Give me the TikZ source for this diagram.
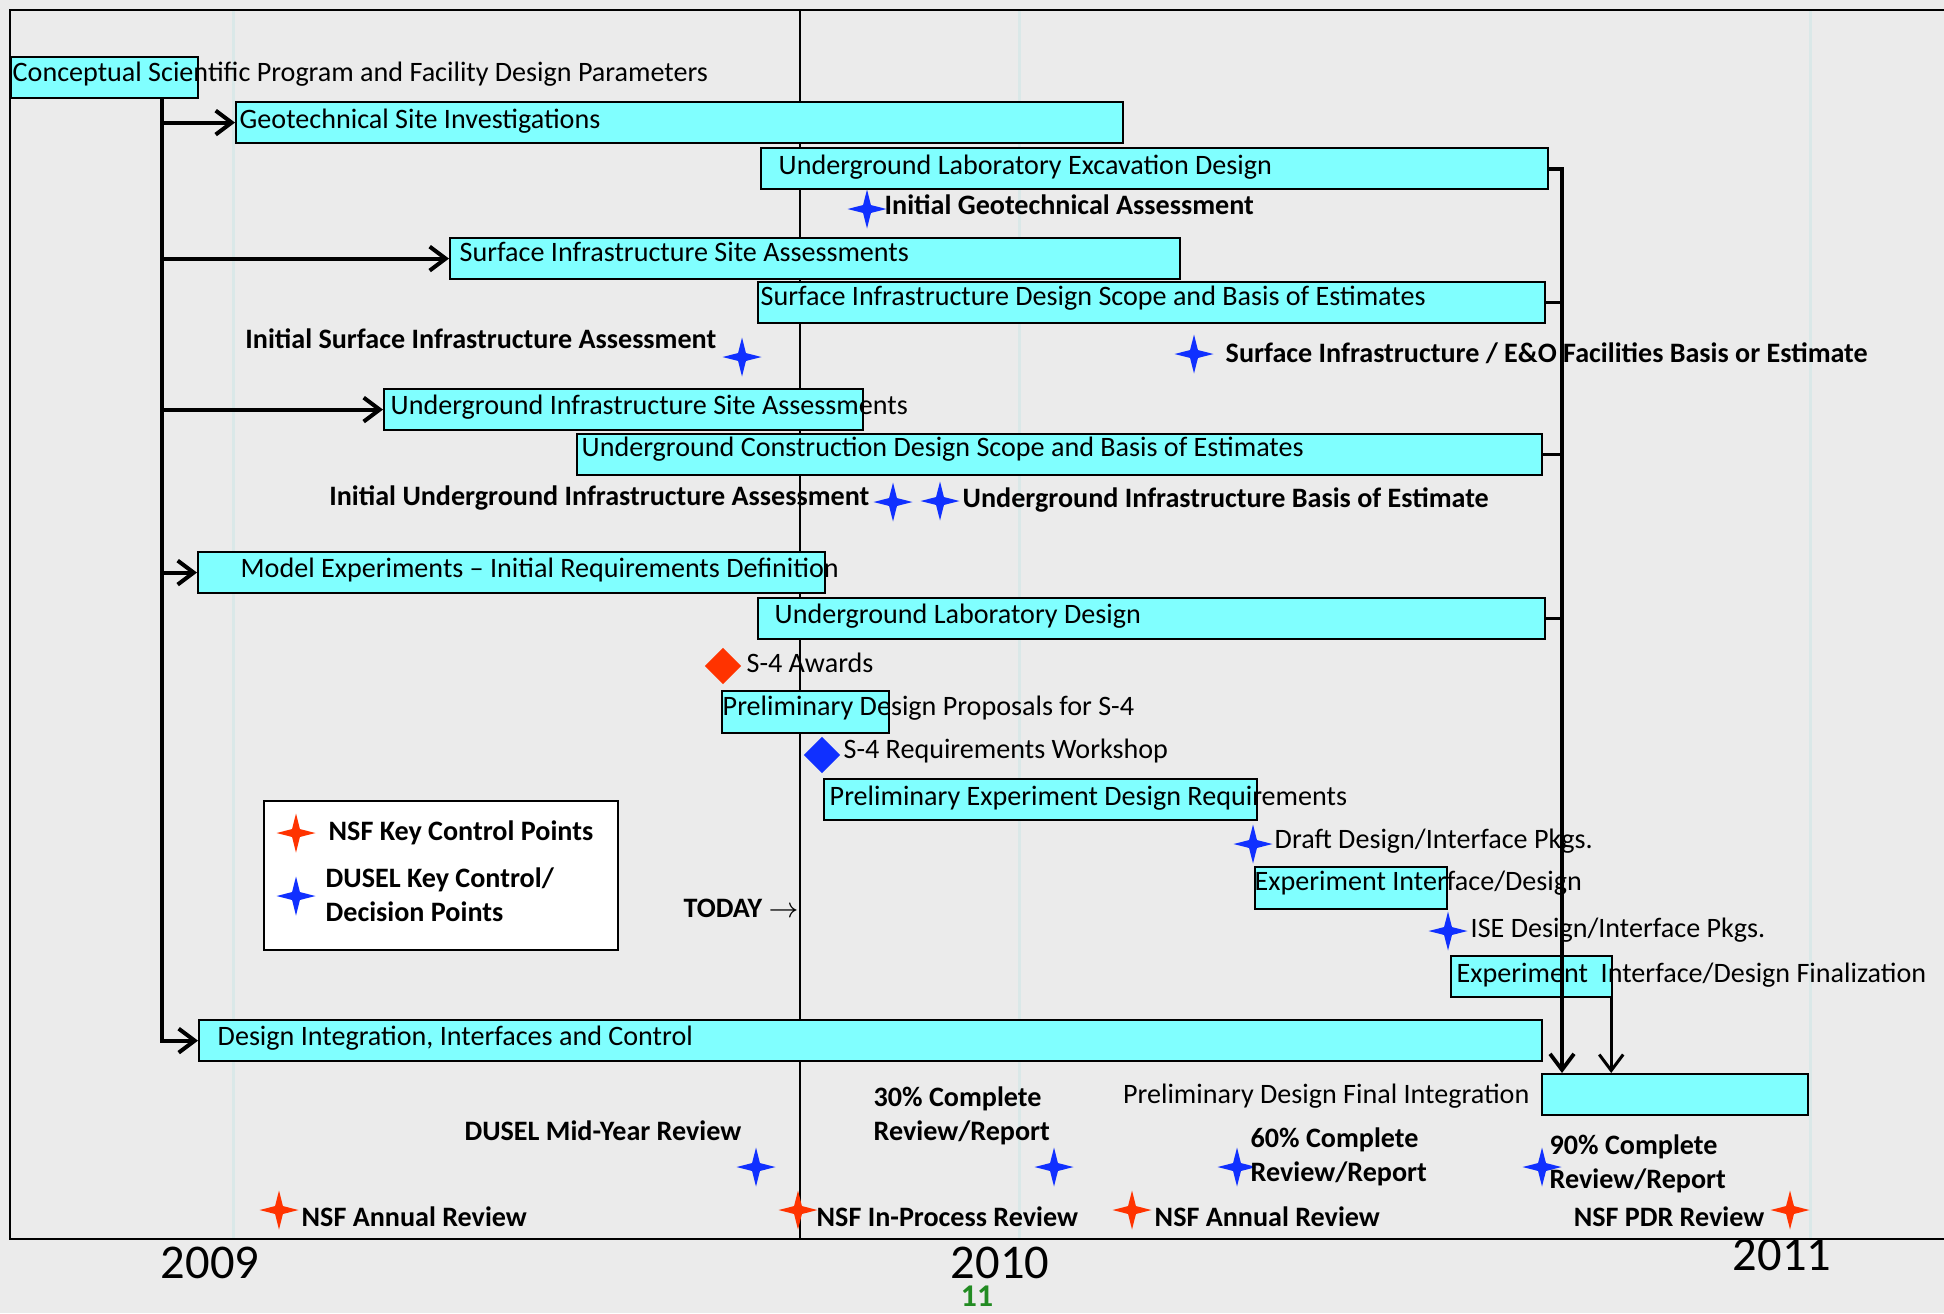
\documentclass[tikz,border=0pt]{standalone}
\usepackage{fontspec}
\setmainfont{Carlito}
\usetikzlibrary{arrows.meta,shapes.geometric,positioning}
\definecolor{barcyan}{RGB}{128,255,255}
\definecolor{bgray}{RGB}{235,235,235}
\definecolor{gridc}{RGB}{218,232,232}
\definecolor{nsfred}{RGB}{255,51,0}
\definecolor{duselblue}{RGB}{16,48,255}
\definecolor{pagegreen}{RGB}{34,139,34}
\begin{document}
\begin{tikzpicture}[x=1mm,y=-1mm,
  bar/.style={draw,line width=0.22mm,fill=barcyan,anchor=north west,minimum height=4.1mm,inner sep=0},
  txt/.style={anchor=base west,inner sep=0,font=\fontsize{8}{9.4}\selectfont},
  btxt/.style={txt,font=\fontsize{8}{9.4}\selectfont\bfseries},
  mtxt/.style={btxt,align=left},
  kstar/.style={star,star points=4,star point ratio=3.5,minimum size=3.9mm,inner sep=0},
  nsfstar/.style={kstar,fill=nsfred},
  dstar/.style={kstar,fill=duselblue},
  mdia/.style={diamond,aspect=1,minimum size=3.7mm,inner sep=0},
  yr/.style={font=\fontsize{13.8}{16}\selectfont,anchor=base,inner sep=0},
  flow/.style={line width=0.4mm,-{Straight Barb[length=1.6mm,width=2.4mm]}},
  link/.style={line width=0.35mm}]
\useasboundingbox (0,0) rectangle (194.4,131.3);
\fill[bgray] (0,0) rectangle (194.4,131.3);
% year grid, today line and frame
\foreach \gx in {23.3,101.9,181.0}
  \draw[gridc,line width=0.3mm] (\gx,1.0) -- (\gx,123.9);
\draw[line width=0.13mm] (80.0,1.0) -- (80.0,123.9);
\draw[line width=0.25mm] (194.4,1.0) -- (1.0,1.0) -- (1.0,123.9) -- (194.4,123.9);

% bars
\node[bar,minimum width=18.7mm] (cons) at (1.0,5.6) {};
\node[bar,minimum width=88.7mm] (geo) at (23.5,10.1) {};
\node[bar,minimum width=78.7mm] (exc) at (76.0,14.7) {};
\node[bar,minimum width=73.0mm] (ssa) at (44.9,23.7) {};
\node[bar,minimum width=78.7mm] (sdes) at (75.7,28.1) {};
\node[bar,minimum width=47.9mm] (usa) at (38.3,38.8) {};
\node[bar,minimum width=96.5mm] (ucon) at (57.6,43.3) {};
\node[bar,minimum width=62.7mm] (mod) at (19.7,55.1) {};
\node[bar,minimum width=78.7mm] (ulab) at (75.7,59.7) {};
\node[bar,minimum width=16.7mm,minimum height=4.2mm] (pdp) at (72.1,69.0) {};
\node[bar,minimum width=43.3mm] (ped) at (82.3,77.8) {};
\node[bar,minimum width=19.2mm,minimum height=4.2mm] (eid) at (125.4,86.6) {};
\node[bar,minimum width=16.1mm] (eif) at (145.0,95.5) {};
\node[bar,minimum width=134.3mm] (din) at (19.8,101.9) {};
\node[bar,minimum width=26.6mm] (pfi) at (154.1,107.3) {};

% flow from the parameters
\coordinate (trunk) at (16.2,9.7);
\draw[flow] (trunk) |- (din.west);
\foreach \b in {geo,ssa,usa,mod}
  \draw[flow] (trunk |- \b.west) -- (\b.west);
\coordinate (rail) at (156.2,16.4);
\draw[flow,line width=0.38mm] (exc.east) -| (rail |- pfi.north);
\foreach \b in {sdes,ucon,ulab}
  \draw[link] (\b.east) -- (\b.east -| rail);
\draw[flow,line width=0.3mm] ([xshift=-0.2mm]eif.south east) -- ([xshift=-0.2mm]eif.south east |- pfi.north);

% bar texts
\node[txt] (cons-t) at (1.2,8.1) {Conceptual Scientific Program and Facility Design Parameters};
\node[txt] (geo-t) at (23.9,12.8) {Geotechnical Site Investigations};
\node[txt] (exc-t) at (77.8,17.4) {Underground Laboratory Excavation Design};
\node[txt] (ssa-t) at (45.9,26.1) {Surface Infrastructure Site Assessments};
\node[txt] (sdes-t) at (76.0,30.5) {Surface Infrastructure Design Scope and Basis of Estimates};
\node[txt] (usa-t) at (39.0,41.4) {Underground Infrastructure Site Assessments};
\node[txt] (ucon-t) at (58.1,45.6) {Underground Construction Design Scope and Basis of Estimates};
\node[txt] (mod-t) at (24.0,57.7) {Model Experiments – Initial Requirements Definition};
\node[txt] (ulab-t) at (77.4,62.3) {Underground Laboratory Design};
\node[txt] (pdp-t) at (72.2,71.5) {Preliminary Design Proposals for S-4};
\node[txt] (ped-t) at (82.9,80.5) {Preliminary Experiment Design Requirements};
\node[txt] (eid-t) at (125.4,89.0) {Experiment Interface/Design};
\node[txt] (eif-t) at (145.6,98.2) {Experiment\ \ Interface/Design Finalization};
\node[txt] (din-t) at (21.7,104.5) {Design Integration, Interfaces and Control};
\node[txt,anchor=base east] (pfi-t) at (153.0,110.3) {Preliminary Design Final Integration};

% milestones
\node[dstar] (igeo) at (86.7,20.9) {};
\node[btxt] (igeo-t) at (88.4,21.4) {Initial Geotechnical Assessment};
\node[dstar] (isurf) at (74.2,35.7) {};
\node[btxt,anchor=base east] (isurf-t) at (71.7,34.8) {Initial Surface Infrastructure Assessment};
\node[dstar] (seo) at (119.4,35.4) {};
\node[btxt] (seo-t) at (122.5,36.2) {Surface Infrastructure / E\&O Facilities Basis or Estimate};
\node[dstar] (iua) at (89.3,50.2) {};
\node[btxt,anchor=base east] (iua-t) at (87.0,50.5) {Initial Underground Infrastructure Assessment};
\node[dstar] (uibe) at (94.0,50.1) {};
\node[btxt] (uibe-t) at (96.2,50.7) {Underground Infrastructure Basis of Estimate};
\node[mdia,fill=nsfred] (s4a) at (72.3,66.6) {};
\node[txt] (s4a-t) at (74.6,67.2) {S-4 Awards};
\node[mdia,fill=duselblue] (s4w) at (82.2,75.5) {};
\node[txt] (s4w-t) at (84.3,75.8) {S-4 Requirements Workshop};
\node[dstar] (draft) at (125.3,84.4) {};
\node[txt] (draft-t) at (127.4,84.8) {Draft Design/Interface Pkgs.};
\node[dstar] (ise) at (144.8,93.1) {};
\node[txt] (ise-t) at (147.0,93.7) {ISE Design/Interface Pkgs.};

% legend and today
\node[draw,fill=white,line width=0.2mm,anchor=north west,minimum width=35.4mm,minimum height=14.9mm,inner sep=0] (legend) at (26.3,80.0) {};
\node[nsfstar] (leg-nsf) at (29.6,83.3) {};
\node[btxt] (leg-nsf-t) at (32.8,84.0) {NSF Key Control Points};
\node[dstar] (leg-dusel) at (29.6,89.6) {};
\node[mtxt] (leg-dusel-t) at (32.5,92.1) {DUSEL Key Control/\\Decision Points};
\node[btxt] (today) at (68.3,91.7) {TODAY $\rightarrow$};

% reviews
\node[btxt,anchor=base east] (midyear-t) at (74.2,114.0) {DUSEL Mid-Year Review};
\node[dstar] (midyear) at (75.6,116.7) {};
\node[mtxt] (c30-t) at (87.3,114.0) {30\% Complete\\Review/Report};
\node[dstar] (c30) at (105.4,116.7) {};
\node[dstar] (c60) at (123.7,116.7) {};
\node[mtxt] (c60-t) at (125.0,118.1) {60\% Complete\\Review/Report};
\node[dstar] (c90) at (154.2,116.7) {};
\node[mtxt] (c90-t) at (154.9,118.8) {90\% Complete\\Review/Report};
\node[nsfstar] (nsf1) at (27.9,121.0) {};
\node[btxt] (nsf1-t) at (30.1,122.6) {NSF Annual Review};
\node[nsfstar] (nsfip) at (79.8,121.0) {};
\node[btxt] (nsfip-t) at (81.6,122.6) {NSF In-Process Review};
\node[nsfstar] (nsf2) at (113.2,121.0) {};
\node[btxt] (nsf2-t) at (115.4,122.6) {NSF Annual Review};
\node[btxt,anchor=base east] (pdr-t) at (176.5,122.6) {NSF PDR Review};
\node[nsfstar] (pdr) at (179.0,121.0) {};

% years
\node[yr] (y2009) at (21.0,127.8) {2009};
\node[yr] (y2010) at (100.0,127.8) {2010};
\node[yr] (y2011) at (178.2,127.0) {2011};
\node[anchor=base,inner sep=0,font=\fontsize{9}{10}\selectfont\bfseries,text=pagegreen] (pnum) at (97.7,130.6) {11};
\end{tikzpicture}
\end{document}
